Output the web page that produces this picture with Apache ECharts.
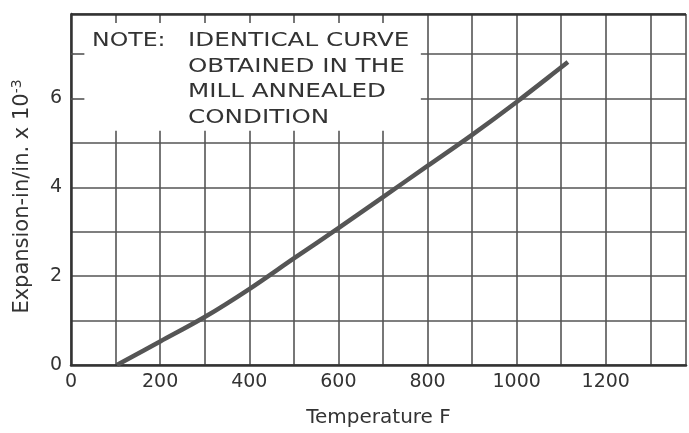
<!DOCTYPE html>
<html>
<head>
<meta charset="utf-8">
<script src="https://cdn.jsdelivr.net/npm/echarts@6/dist/echarts.min.js"></script>
<style>html,body{margin:0;padding:0;background:#fff;}#c{width:689px;height:433px;}</style>
</head>
<body>
<div id="c"></div>
<script>
// Data
var temperatureF = [103, 200, 300, 400, 500, 600, 700, 800, 900, 1000, 1100, 1115];
var expansion    = [0, 0.53, 1.08, 1.71, 2.40, 3.08, 3.78, 4.48, 5.18, 5.92, 6.70, 6.82];
var xTickLabels = [0, 200, 400, 600, 800, 1000, 1200];
var yTickLabels = [0, 2, 4, 6];
var noteLines = ['IDENTICAL CURVE', 'OBTAINED IN THE', 'MILL ANNEALED', 'CONDITION'];

var points = temperatureF.map(function (t, i) { return [t, expansion[i]]; });
var ink = '#333';
var gridCol = '#555';
var font = '"DejaVu Sans", sans-serif';

var chart = echarts.init(document.getElementById('c'), null, {renderer: 'canvas'});

var graphics = [{
  type: 'text', x: 92, y: 41, scaleX: 1.18, z: 100,
  style: {text: 'NOTE:', x: 0, y: 0, verticalAlign: 'middle', fontSize: 20, fontFamily: font, fill: ink}
}];
noteLines.forEach(function (s, i) {
  graphics.push({
    type: 'text', x: 188, y: 41 + i * 25.6, scaleX: 1.23, z: 100,
    style: {text: s, x: 0, y: 0, verticalAlign: 'middle', fontSize: 20, fontFamily: font, fill: ink}
  });
});

var stubLines = [];
[100, 200, 300, 400, 500, 600, 700].forEach(function (t) {
  stubLines.push([{coord: [t, 7.9]}, {coord: [t, 7.7]}]);
});
[6, 7].forEach(function (v) {
  stubLines.push([{coord: [0, v]}, {coord: [30, v]}]);
});
var topBorder = [[{coord: [0, 7.9]}, {coord: [1380, 7.9]}]];

chart.setOption({
  animation: false,
  backgroundColor: '#fff',
  grid: {left: 71, right: 0, top: 14, bottom: 62, containLabel: false},
  xAxis: {
    type: 'value', min: 0, max: 1380, interval: 100,
    name: 'Temperature F', nameLocation: 'middle', nameGap: 43,
    nameTextStyle: {fontSize: 20, fontFamily: font, color: ink},
    axisLine: {show: true, lineStyle: {color: '#333', width: 2.5}},
    axisTick: {show: false},
    axisLabel: {
      margin: 8, fontSize: 19, fontFamily: font, color: ink,
      formatter: function (v) { return xTickLabels.indexOf(v) >= 0 ? String(v) : ''; }
    },
    splitLine: {show: true, lineStyle: {color: gridCol, width: 1.6}}
  },
  yAxis: {
    type: 'value', min: 0, max: 7.9, interval: 1,
    name: 'Expansion-in/in. x 10{sup|-3}', nameLocation: 'middle', nameGap: 35,
    nameTextStyle: {
      fontSize: 21, fontFamily: font, color: ink, padding: [0, 14, 0, 0],
      rich: {sup: {fontSize: 14, fontFamily: font, color: ink, padding: [0, 0, 12, 0]}}
    },
    axisLine: {show: true, lineStyle: {color: '#333', width: 2.5}},
    axisTick: {show: false},
    axisLabel: {
      margin: 9, fontSize: 19, fontFamily: font, color: ink,
      formatter: function (v) { return yTickLabels.indexOf(v) >= 0 ? String(v) : ''; }
    },
    splitLine: {show: true, lineStyle: {color: gridCol, width: 1.6}}
  },
  graphic: {elements: graphics},
  series: [{
    type: 'line', data: points, smooth: 0.35, symbol: 'none',
    lineStyle: {color: '#555', width: 4.5},
    z: 3,
    markArea: {
      silent: true,
      itemStyle: {color: '#fff', opacity: 1},
      data: [[{coord: [5, 5.27]}, {coord: [785, 7.86]}]]
    },
    markLine: {
      silent: true, symbol: 'none', label: {show: false},
      lineStyle: {color: gridCol, width: 1.6, type: 'solid'},
      data: stubLines.concat(topBorder.map(function (seg) {
        return [Object.assign({lineStyle: {color: '#333', width: 2.5}}, seg[0]), seg[1]];
      }))
    }
  }]
});
</script>
</body>
</html>
